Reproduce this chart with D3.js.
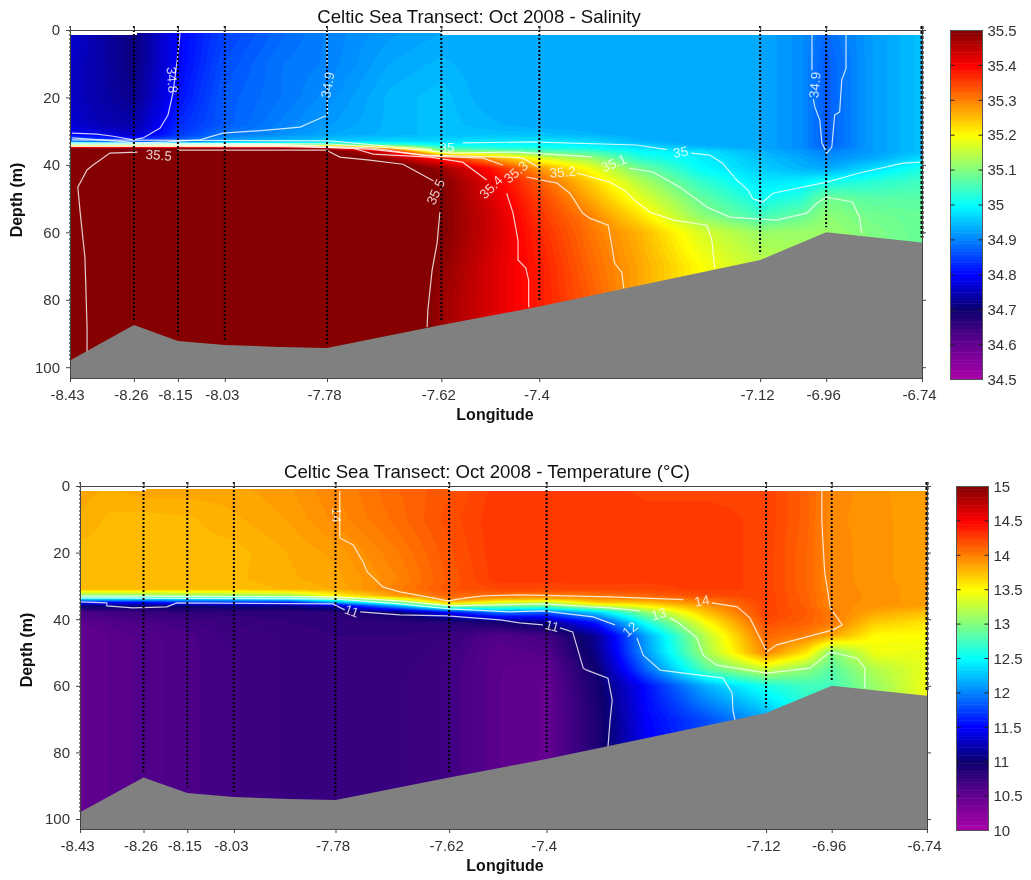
<!DOCTYPE html>
<html>
<head>
<meta charset="utf-8">
<title>Celtic Sea Transect</title>
<script src="https://cdn.jsdelivr.net/npm/d3@7"></script>
<style>
  html, body { margin: 0; background: #fff; }
  #chart { position: relative; width: 1031px; height: 880px; overflow: hidden; }
  #chart canvas { position: absolute; }
  #chart svg { position: absolute; left: 0; top: 0; }
  text { font-family: "Liberation Sans", Arial, sans-serif; }
</style>
</head>
<body>
<div id="chart"></div>
<script>
// stations along the transect: longitude label, distance along track (km), depth the cast reached (m)
var stationLon = ["-8.43", "-8.26", "-8.15", "-8.03", "-7.78", "-7.62", "-7.4", "-7.12", "-6.96", "-6.74"];
var stationKm = [0, 9, 15.2, 21.8, 36.2, 52.3, 66.1, 97.2, 106.5, 120];
var stationBottom = [98, 86, 90.5, 92, 93, 86, 80.5, 66.5, 58.5, 61.5];

// sea bed
var bedKm = [0, 9, 15.2, 21.8, 29.6, 36.2, 52.3, 66.1, 97.2, 106.5, 120];
var bedDepth = [98, 87.5, 92.2, 93.4, 94, 94.3, 87.5, 82, 68.2, 60, 63];

// grid the sections were read on
var gridKm = [0, 4.2, 9, 15.2, 21.8, 29.6, 36.2, 45, 52.3, 59.2, 66.1, 73.2, 80.3, 88.8, 97.2, 102.9, 106.5, 112.7, 120];
var gridDepth = [1, 10, 20, 28, 31, 33, 34, 35, 36, 38, 41, 45, 50, 55, 60, 70, 80, 90, 100];

var salinityGrid = [
  [34.77, 34.74, 34.71, 34.80, 34.85, 34.88, 34.90, 34.92, 34.93, 34.93, 34.93, 34.93, 34.93, 34.93, 34.93, 34.91, 34.88, 34.92, 34.95],
  [34.76, 34.74, 34.71, 34.80, 34.86, 34.89, 34.90, 34.93, 34.94, 34.93, 34.93, 34.93, 34.93, 34.93, 34.93, 34.91, 34.87, 34.92, 34.95],
  [34.76, 34.74, 34.72, 34.81, 34.87, 34.89, 34.91, 34.94, 34.95, 34.93, 34.93, 34.93, 34.93, 34.93, 34.93, 34.91, 34.87, 34.92, 34.95],
  [34.77, 34.75, 34.74, 34.83, 34.87, 34.90, 34.92, 34.94, 34.95, 34.94, 34.93, 34.93, 34.93, 34.93, 34.93, 34.91, 34.87, 34.92, 34.95],
  [34.80, 34.78, 34.76, 34.84, 34.89, 34.91, 34.93, 34.94, 34.95, 34.95, 34.95, 34.94, 34.93, 34.93, 34.93, 34.91, 34.87, 34.92, 34.95],
  [34.90, 34.88, 34.86, 34.88, 34.93, 34.95, 34.96, 34.97, 34.97, 34.98, 34.98, 34.97, 34.94, 34.93, 34.93, 34.91, 34.87, 34.92, 34.95],
  [35.10, 35.10, 35.10, 35.10, 35.10, 35.10, 35.10, 35.05, 35.00, 35.00, 35.00, 34.99, 34.96, 34.93, 34.93, 34.91, 34.87, 34.92, 34.95],
  [35.48, 35.48, 35.48, 35.48, 35.48, 35.48, 35.45, 35.25, 35.05, 35.03, 35.02, 35.01, 34.98, 34.95, 34.93, 34.91, 34.88, 34.92, 34.95],
  [35.55, 35.55, 35.55, 35.55, 35.55, 35.55, 35.52, 35.42, 35.12, 35.10, 35.07, 35.05, 35.00, 34.98, 34.94, 34.92, 34.90, 34.92, 34.95],
  [35.55, 35.55, 35.55, 35.55, 35.55, 35.55, 35.55, 35.47, 35.38, 35.28, 35.18, 35.12, 35.03, 34.99, 34.95, 34.93, 34.91, 34.93, 34.97],
  [35.55, 35.55, 35.55, 35.55, 35.55, 35.55, 35.55, 35.55, 35.48, 35.39, 35.28, 35.19, 35.09, 35.00, 34.96, 34.94, 34.93, 34.97, 35.02],
  [35.50, 35.55, 35.55, 35.55, 35.55, 35.55, 35.55, 35.55, 35.50, 35.42, 35.33, 35.24, 35.14, 35.04, 34.98, 34.99, 35.01, 35.03, 35.05],
  [35.50, 35.55, 35.55, 35.55, 35.55, 35.55, 35.55, 35.55, 35.50, 35.43, 35.35, 35.27, 35.18, 35.08, 35.01, 35.03, 35.09, 35.07, 35.07],
  [35.50, 35.55, 35.55, 35.55, 35.55, 35.55, 35.55, 35.55, 35.50, 35.44, 35.36, 35.30, 35.22, 35.11, 35.05, 35.08, 35.11, 35.09, 35.08],
  [35.50, 35.55, 35.55, 35.55, 35.55, 35.55, 35.55, 35.55, 35.50, 35.44, 35.37, 35.31, 35.26, 35.17, 35.12, 35.12, 35.12, 35.10, 35.08],
  [35.50, 35.55, 35.55, 35.55, 35.55, 35.55, 35.55, 35.55, 35.49, 35.43, 35.38, 35.32, 35.27, 35.20, 35.15, 35.14, 35.13, 35.10, 35.08],
  [35.50, 35.55, 35.55, 35.55, 35.55, 35.55, 35.55, 35.55, 35.48, 35.43, 35.38, 35.33, 35.27, 35.20, 35.15, 35.14, 35.13, 35.10, 35.08],
  [35.50, 35.55, 35.55, 35.55, 35.55, 35.55, 35.55, 35.55, 35.48, 35.43, 35.38, 35.33, 35.27, 35.20, 35.15, 35.14, 35.13, 35.10, 35.08],
  [35.50, 35.55, 35.55, 35.55, 35.55, 35.55, 35.55, 35.55, 35.48, 35.43, 35.38, 35.33, 35.27, 35.20, 35.15, 35.14, 35.13, 35.10, 35.08]
];

var temperatureGrid = [
  [13.85, 13.82, 13.85, 13.85, 13.85, 13.90, 13.98, 14.10, 14.17, 14.28, 14.28, 14.27, 14.25, 14.25, 14.25, 14.12, 13.97, 13.92, 13.87],
  [13.82, 13.78, 13.77, 13.78, 13.82, 13.87, 13.96, 14.08, 14.20, 14.29, 14.29, 14.28, 14.27, 14.27, 14.25, 14.12, 13.96, 13.92, 13.88],
  [13.77, 13.77, 13.77, 13.77, 13.77, 13.83, 13.88, 14.02, 14.17, 14.29, 14.29, 14.28, 14.27, 14.27, 14.25, 14.10, 13.97, 13.92, 13.88],
  [13.77, 13.77, 13.77, 13.77, 13.78, 13.82, 13.85, 13.98, 14.15, 14.28, 14.28, 14.28, 14.27, 14.27, 14.25, 14.10, 13.97, 13.92, 13.88],
  [13.75, 13.75, 13.75, 13.75, 13.75, 13.80, 13.83, 14.01, 14.17, 14.22, 14.22, 14.24, 14.24, 14.27, 14.25, 14.10, 13.97, 13.93, 13.88],
  [13.00, 13.00, 13.00, 13.05, 13.05, 13.10, 13.50, 13.90, 14.10, 14.05, 14.00, 14.03, 14.10, 14.20, 14.25, 14.12, 13.98, 13.93, 13.88],
  [12.30, 12.30, 12.30, 12.35, 12.35, 12.40, 12.90, 13.40, 14.03, 13.80, 13.75, 13.90, 13.95, 14.07, 14.25, 14.12, 13.98, 13.93, 13.88],
  [11.50, 11.50, 11.50, 11.60, 11.60, 11.60, 12.10, 12.90, 13.70, 13.40, 13.20, 13.70, 13.75, 14.02, 14.25, 14.12, 13.97, 13.93, 13.88],
  [11.05, 11.05, 11.05, 11.05, 11.10, 11.10, 11.30, 12.20, 13.10, 12.95, 12.90, 13.25, 13.55, 13.90, 14.25, 14.13, 13.97, 13.92, 13.87],
  [10.65, 10.70, 10.75, 10.80, 10.80, 10.80, 10.82, 11.00, 11.50, 11.95, 11.85, 12.30, 13.05, 13.75, 14.25, 14.15, 14.02, 13.85, 13.75],
  [10.55, 10.60, 10.65, 10.70, 10.75, 10.78, 10.80, 10.82, 10.85, 10.95, 11.10, 11.60, 12.60, 13.50, 14.20, 14.12, 14.03, 13.70, 13.60],
  [10.50, 10.55, 10.60, 10.65, 10.72, 10.75, 10.78, 10.78, 10.75, 10.60, 10.70, 11.15, 12.15, 13.25, 14.10, 14.01, 13.85, 13.50, 13.50],
  [10.50, 10.55, 10.60, 10.65, 10.70, 10.75, 10.78, 10.78, 10.72, 10.55, 10.60, 11.10, 12.10, 13.15, 14.00, 13.60, 13.00, 13.45, 13.42],
  [10.50, 10.55, 10.60, 10.65, 10.70, 10.75, 10.78, 10.76, 10.70, 10.55, 10.52, 11.00, 11.90, 12.85, 13.30, 13.05, 12.85, 13.20, 13.42],
  [10.50, 10.55, 10.60, 10.65, 10.70, 10.75, 10.78, 10.75, 10.70, 10.55, 10.50, 10.95, 11.55, 12.20, 12.60, 12.75, 12.75, 13.10, 13.45],
  [10.50, 10.55, 10.60, 10.65, 10.70, 10.75, 10.78, 10.75, 10.70, 10.55, 10.50, 10.90, 11.50, 11.80, 12.15, 12.60, 12.70, 13.10, 13.45],
  [10.50, 10.55, 10.60, 10.65, 10.70, 10.75, 10.78, 10.75, 10.70, 10.55, 10.50, 10.90, 11.45, 11.75, 12.10, 12.60, 12.70, 13.10, 13.45],
  [10.50, 10.55, 10.60, 10.65, 10.70, 10.75, 10.78, 10.75, 10.70, 10.55, 10.50, 10.90, 11.45, 11.75, 12.10, 12.60, 12.70, 13.10, 13.45],
  [10.50, 10.55, 10.60, 10.65, 10.70, 10.75, 10.78, 10.75, 10.70, 10.55, 10.50, 10.90, 11.45, 11.75, 12.10, 12.60, 12.70, 13.10, 13.45]
];

// contour lines as [km, depth], null = gap left for a label
var salinityContours = [
  [[15.5,1],[15.1,8.9],[14.5,18.7],[13.8,25.2],[12.7,29.1],[10.3,32],[8.9,32.6],[6.1,31.5],[3.8,30.9],[0.3,30.6]],
  [[36.2,1],[36.2,11],null,[36.2,20.5],[36.3,25.2],[32.4,28.8],[27.7,29.7],[21.5,30.6],[18.3,32.6],[13.7,33.2],[9.9,33.5],[0.3,32]],
  [[104.5,1.5],[104.5,11.9],null,[104.7,20.5],[104.9,22.8],[105.6,26.7],[105.9,33.5],[106.6,36.5],[107.3,34.7],[107.7,25.2],[108.4,24.3],[108.7,14.8],[109.3,11.3],[109.3,1.5]],
  [[0.3,32.6],[36.6,32.9],[46,34.7],[51,35.4],null,[55.3,33.5],[64.8,33.2],[79.8,34.1],[84.1,35.5],null,[87.5,36.5],[90.1,37.1],[91.9,39.5],[93.9,44.5],[95.5,47.5],[96.2,50.1],[97.6,51],[99,48.4],[106.6,45.1],[111.2,42.4],[117.3,39.5],[120,39.2]],
  [[0,33.5],[36.6,33.8],[49.7,35.6],[53.9,36.5],[62.9,36.2],[73.5,37.6],null,[78.8,41],[82.1,42.1],[85.9,46.6],[89.7,52.5],[92.9,55.5],[99.5,56.4],[103.8,54.3],[105.2,51.3],[106.6,49.6],[110.2,51],[111.2,55.5],[111.5,60.2]],
  [[0,33.8],[30,34],[42.5,35],[49.7,37.1],[61.5,37.7],[63.8,38],[66.2,41],null,[71.4,42.4],[76,45.1],[78.1,47.5],[79.8,51],[81.7,54],[85,56.4],[89.7,57.9],[90.4,62.3],[90.8,70.6]],
  [[0,34.1],[30,34.3],[42.2,35.3],[51.1,37.4],[58.2,38],[61,40.1],null,[64.3,43.6],[68.6,45.4],[70.4,48.4],[72.2,54.3],[73.2,55.8],[75.8,57.9],[76.3,63.8],[76.7,69.1],[77.7,71.8],[78,76.6]],
  [[0,34.5],[30,34.6],[39.8,35],[42.7,36.8],[50.7,37.7],[55.3,39.2],[58.7,44.5],null,[61.5,48.4],[62.4,54.3],[63.1,62.3],[63.1,68.2],[64.2,70.6],[64.6,74.2],[64.6,82.2]],
  [[2.4,95.5],[2.4,88.1],[2.1,67.4],[1.4,53.4],[1.1,46.6],[2.4,41.5],[3.2,40.1],[4.2,38.6],[5.6,36.5],[9.5,36.2],null,[15.1,35.6],[36.2,35.6],[36.6,36.2],[38,37.7],[42.2,38.6],[46.9,39.8],[48.9,42.1],[51.2,44.8],null,[52.1,54],[51.7,63.2],[51,71.2],[50.4,83.1],[50.3,88.1]]
];
var temperatureContours = [
  [[36.8,1.5],[36.8,15.6],[38.7,17.7],[40.1,22.8],[40.7,25.8],[42.9,30.3],[45.3,31.8],[50,33.6],[52,34.5],[54.8,33.6],[57.1,33],[62.3,32.7],[75.1,33.3],[85.5,34.1],null,[89.5,35.1],[93.1,36.3],[94.9,39.6],[97.3,49.8],[98.7,47.7],[106.7,43.2],[108,41.7],[106.7,37.8],[106.3,36.6],[105.5,25.8],[105.1,10.8],[105.1,1.5]],
  [[0,33],[36,33.3],[45.3,34.5],[52.4,36],[65.6,35.4],[75.1,36.6],[79.3,37.5],null,[83.6,39.6],[84.6,40.8],[87.4,45.6],[88.3,50.8],[90.2,53.8],[97.3,56.2],[103.4,54.7],[106.3,49.8],[110.1,51.7],[111.2,54.7],[111.2,60.7]],
  [[0,33.6],[36,33.9],[45.3,35.4],[52.4,36.9],[60.9,37.8],[65.6,37.5],[72.7,39.3],[75.8,41.7],null,[78.9,45.6],[79.8,50.8],[82.2,55.3],[91.1,57.7],[92.4,62.2],[92.5,67.3],[92.8,70.3]],
  [[0,34.8],[3.8,35.1],[3.8,36],[7.5,36.6],[12.3,36.3],[13.7,35.1],[35.8,35.4],[37.5,37.2],null,[39.7,37.8],[45.3,38.7],[52,39],[59.5,40.2],[62.3,41.1],[65.6,41.7],null,[68,42.6],[69.8,43.8],[71.3,54.7],[71.8,55.3],[74.8,57.7],[75.4,64.3],[75.1,70.3],[74.8,78.4]]
];

// contour labels: text, km, depth, rotation
var salinityLabels = [
  ["34.8", 14.4, 14.8, 85], ["34.9", 36.3, 16.3, -80], ["34.9", 104.9, 16.3, -85],
  ["35.5", 12.5, 37.1, 5], ["35", 53.1, 34.7, 0], ["35.5", 51.5, 48, -65],
  ["35.4", 59.3, 46.6, -45], ["35.3", 62.8, 42.1, -40], ["35.2", 69.4, 42.1, -5],
  ["35.1", 76.6, 39.5, -22], ["35", 86, 36.2, -10]
];
var temperatureLabels = [
  ["14", 36.4, 8.7, 90], ["11", 38.5, 37.5, 20], ["11", 66.9, 42, 15],
  ["12", 77.9, 43, -40], ["13", 82, 38.4, -15], ["14", 88.1, 34.5, -10]
];

var salinityTicks = ["34.5", "34.6", "34.7", "34.8", "34.9", "35", "35.1", "35.2", "35.3", "35.4", "35.5"];
var temperatureTicks = ["10", "10.5", "11", "11.5", "12", "12.5", "13", "13.5", "14", "14.5", "15"];
var depthTicks = [0, 20, 40, 60, 80, 100];

// colormap: jet with a purple foot
var cmapPos = [0, 0.1, 0.2, 0.3, 0.4, 0.5, 0.6, 0.7, 0.8, 0.9, 1];
var cmapCol = ["#aa00aa", "#640091", "#0c006e", "#0000ff", "#0082ff", "#00ffff", "#80ff80", "#ffff00", "#ff8000", "#ff0000", "#800000"];
var cmap = d3.scaleLinear().domain(cmapPos).range(cmapCol);
var nBands = 128;
var bands = d3.range(nBands).map(function(i) {
  return d3.rgb(cmap((i + 0.5) / nBands));
});

var chart = d3.select("#chart");
var svg = chart.append("svg").attr("width", 1031).attr("height", 880);

function drawSection(opt) {
  var x = d3.scaleLinear().domain([0, 120]).range([opt.left, opt.right]);
  var y = d3.scaleLinear().domain([0, opt.maxDepth]).range([opt.top, opt.bottom]);
  var colIndex = d3.scaleLinear().domain(gridKm).range(d3.range(gridKm.length)).clamp(true);
  var rowIndex = d3.scaleLinear().domain(gridDepth).range(d3.range(gridDepth.length)).clamp(true);

  // shading goes on a canvas under the svg, pixel by pixel
  var w = opt.right - opt.left, h = opt.bottom - opt.top;
  var canvas = chart.insert("canvas", "svg")
    .attr("width", w).attr("height", h)
    .style("left", opt.left + "px").style("top", opt.top + "px");
  var ctx = canvas.node().getContext("2d");
  var img = ctx.createImageData(w, h);
  for (var py = 0; py < h; py++) {
    var depth = y.invert(opt.top + py + 0.5);
    var rf = rowIndex(depth), r0 = Math.min(Math.floor(rf), gridDepth.length - 2), rt = rf - r0;
    for (var px = 0; px < w; px++) {
      var km = x.invert(opt.left + px + 0.5);
      // casts did not quite reach the surface
      var edge = (km > 9.4 && km < 52.3) ? 0.8 : 1.5;
      if (depth < edge) continue;
      var cf = colIndex(km), c0 = Math.min(Math.floor(cf), gridKm.length - 2), ct = cf - c0;
      var v = (opt.grid[r0][c0] * (1 - ct) + opt.grid[r0][c0 + 1] * ct) * (1 - rt)
            + (opt.grid[r0 + 1][c0] * (1 - ct) + opt.grid[r0 + 1][c0 + 1] * ct) * rt;
      var b = Math.floor((v - opt.vmin) / (opt.vmax - opt.vmin) * nBands);
      b = Math.max(0, Math.min(nBands - 1, b));
      var k = (py * w + px) * 4;
      img.data[k] = bands[b].r;
      img.data[k + 1] = bands[b].g;
      img.data[k + 2] = bands[b].b;
      img.data[k + 3] = 255;
    }
  }
  ctx.putImageData(img, 0, 0);

  var g = svg.append("g");

  // contours
  var line = d3.line()
    .defined(function(d) { return d; })
    .x(function(d) { return x(d[0]); })
    .y(function(d) { return y(d[1]); });
  g.selectAll(".contour").data(opt.contours).enter().append("path")
    .attr("class", "contour")
    .attr("d", line)
    .attr("fill", "none")
    .attr("stroke", "#fff")
    .attr("stroke-opacity", 0.8)
    .attr("stroke-width", 1.2);

  g.selectAll(".clabel").data(opt.labels).enter().append("text")
    .attr("class", "clabel")
    .attr("transform", function(d) {
      return "translate(" + x(d[1]) + "," + y(d[2]) + ") rotate(" + d[3] + ")";
    })
    .attr("text-anchor", "middle")
    .attr("dy", "0.35em")
    .attr("fill", "#fff")
    .attr("fill-opacity", 0.8)
    .style("font-size", "13.5px")
    .text(function(d) { return d[0]; });

  // sea bed
  var area = d3.area()
    .x(function(d) { return x(d); })
    .y0(opt.bottom)
    .y1(function(d, i) { return y(bedDepth[i]); });
  g.append("path").datum(bedKm).attr("d", area).attr("fill", "#808080");

  // station lines
  g.selectAll(".station").data(stationKm).enter().append("line")
    .attr("class", "station")
    .attr("x1", function(d) { return x(d); })
    .attr("x2", function(d) { return x(d); })
    .attr("y1", y(0) - 4)
    .attr("y2", function(d, i) { return y(stationBottom[i]); })
    .attr("stroke", "#000")
    .attr("stroke-width", function(d, i) { return i === 0 ? 1 : (i === 9 ? 3 : 2); })
    .attr("stroke-dasharray", function(d, i) { return i === 9 ? "3,2" : "2,2"; });

  // axes
  var bottomAxis = d3.axisBottom(x).tickValues(stationKm).tickSize(4).tickSizeOuter(0).tickPadding(7)
    .tickFormat(function(d, i) { return stationLon[i]; });
  var topAxis = d3.axisTop(x).tickValues(stationKm).tickSize(4).tickSizeOuter(0).tickFormat("");
  var leftAxis = d3.axisLeft(y).tickValues(depthTicks).tickSize(4).tickSizeOuter(0).tickPadding(6);
  var rightAxis = d3.axisRight(y).tickValues(depthTicks).tickSize(4).tickSizeOuter(0).tickFormat("");

  var axes = [
    [bottomAxis, "translate(0," + opt.bottom + ")"],
    [topAxis, "translate(0," + opt.top + ")"],
    [leftAxis, "translate(" + opt.left + ",0)"],
    [rightAxis, "translate(" + opt.right + ",0)"]
  ];
  axes.forEach(function(a) {
    var ax = g.append("g").attr("transform", a[1]).call(a[0]);
    ax.selectAll("path, line").attr("stroke", "#444");
    ax.selectAll("text").attr("fill", "#333").style("font-size", "15px").style("font-family", '"Liberation Sans", Arial, sans-serif');
  });
  // longitude labels sit a little left of their ticks in the original
  g.selectAll("text").filter(function() { return this.textContent.indexOf("-") === 0; }).attr("dx", -3);

  // titles
  g.append("text").attr("x", opt.titleX).attr("y", opt.titleY)
    .attr("text-anchor", "middle").attr("fill", "#111").style("font-size", "18.6px")
    .text(opt.title);
  g.append("text").attr("x", opt.xLabelX).attr("y", opt.xLabelY)
    .attr("text-anchor", "middle").attr("fill", "#111").style("font-size", "16px").style("font-weight", "bold")
    .text("Longitude");
  g.append("text")
    .attr("transform", "translate(" + opt.yLabelX + "," + opt.yLabelY + ") rotate(-90)")
    .attr("text-anchor", "middle").attr("fill", "#111").style("font-size", "16px").style("font-weight", "bold")
    .text("Depth (m)");

  // colour bar
  var c = d3.scaleLinear().domain([0, 1]).range([opt.barBottom, opt.barTop]);
  var bandH = (opt.barBottom - opt.barTop) / nBands;
  g.selectAll(".band").data(d3.range(nBands)).enter().append("rect")
    .attr("class", "band")
    .attr("x", opt.barLeft)
    .attr("width", opt.barRight - opt.barLeft)
    .attr("y", function(d) { return c((d + 1) / nBands); })
    .attr("height", bandH + 0.5)
    .attr("fill", function(d) { return bands[d].toString(); });
  g.append("rect")
    .attr("x", opt.barLeft).attr("y", opt.barTop)
    .attr("width", opt.barRight - opt.barLeft).attr("height", opt.barBottom - opt.barTop)
    .attr("fill", "none").attr("stroke", "#555");
  var tickPos = opt.ticks.map(function(d, i) { return i / (opt.ticks.length - 1); });
  g.selectAll(".barTick").data(tickPos.slice(1, -1)).enter().append("path")
    .attr("class", "barTick")
    .attr("d", function(d) {
      return "M" + opt.barLeft + "," + c(d) + "h4M" + opt.barRight + "," + c(d) + "h-4";
    })
    .attr("stroke", "#222");
  g.selectAll(".barLabel").data(opt.ticks).enter().append("text")
    .attr("class", "barLabel")
    .attr("x", opt.barRight + 5)
    .attr("y", function(d, i) { return c(tickPos[i]); })
    .attr("dy", "0.35em")
    .attr("fill", "#333")
    .style("font-size", "15px")
    .text(function(d) { return d; });
}

drawSection({
  grid: salinityGrid, contours: salinityContours, labels: salinityLabels, ticks: salinityTicks,
  vmin: 34.5, vmax: 35.5, title: "Celtic Sea Transect: Oct 2008 - Salinity",
  left: 70, right: 922, top: 30, bottom: 378, maxDepth: 103.2,
  titleX: 479, titleY: 23, xLabelX: 495, xLabelY: 420, yLabelX: 22, yLabelY: 200,
  barLeft: 950.5, barRight: 982.5, barTop: 30.5, barBottom: 379.5
});
drawSection({
  grid: temperatureGrid, contours: temperatureContours, labels: temperatureLabels, ticks: temperatureTicks,
  vmin: 10, vmax: 15, title: "Celtic Sea Transect: Oct 2008 - Temperature (\u00B0C)",
  left: 80, right: 927, top: 486, bottom: 829, maxDepth: 103,
  titleX: 487, titleY: 478, xLabelX: 505, xLabelY: 871, yLabelX: 32, yLabelY: 650,
  barLeft: 956.5, barRight: 988.5, barTop: 486.5, barBottom: 830.5
});
</script>
</body>
</html>
